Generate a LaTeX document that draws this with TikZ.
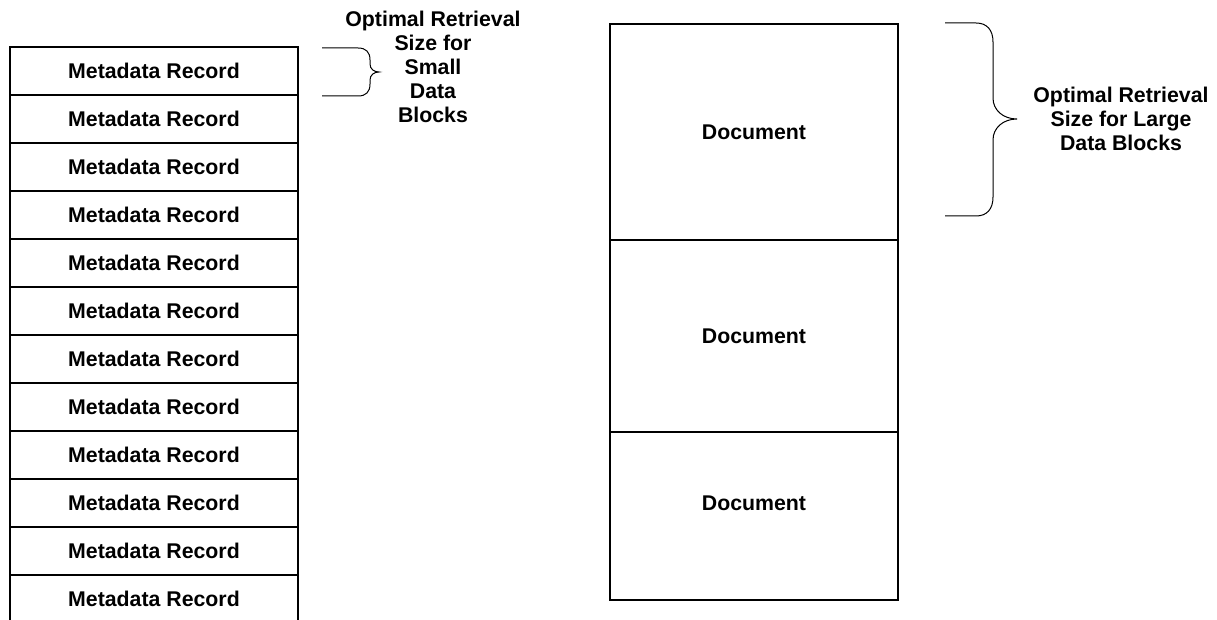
\documentclass[tikz,border=0pt]{standalone}
\usepackage{fontspec}
\setmainfont{Liberation Sans}
\usepackage{tikz}
\usetikzlibrary{positioning}

\begin{document}
\begin{tikzpicture}[x=1pt, y=-1pt,
		every node/.style={font=\fontsize{21.3}{24}\selectfont\bfseries},
		recbox/.style={draw, line width=1.3pt, outer sep=0pt, minimum width=288pt, minimum height=48pt, inner sep=0pt},%
		docbox/.style={draw, line width=1.3pt, outer sep=0pt, minimum width=288pt, inner sep=0pt},%
		brc/.style={line width=1pt},
		]
	\useasboundingbox (0,0) rectangle (1217,620);
	\node[recbox] (rec1) at (154,71) {Metadata Record};
	\foreach \i [remember=\i as \j (initially 1)] in {2,...,12}
		\node[recbox, below=0pt of rec\j] (rec\i) {Metadata Record};
	\node[docbox, minimum height=216pt] (doc1) at (754,132) {Document};
	\node[docbox, minimum height=192pt, below=0pt of doc1] (doc2) {Document};
	\node[docbox, minimum height=168pt, below=0pt of doc2] (doc3) {};
	\node (doc3txt) at ([yshift=13pt]doc3.center) {Document};
	\node[align=center] (smalltxt) at (433,67) {Optimal Retrieval\\Size for\\Small\\Data\\Blocks};
	\node[align=center] (largetxt) at (1121,119) {Optimal Retrieval\\Size for Large\\Data Blocks};
	\draw[brc] (322,48) -- (358,48) .. controls (366,48) and (370,52) .. (370,60) -- (370,64)
		.. controls (370,69) and (374,72) .. (379,72) .. controls (374,72) and (370,75) .. (370,80)
		-- (370,84) .. controls (370,92) and (366,96) .. (358,96) -- (322,96);
	\draw[brc] (945,23) -- (976,23) .. controls (987,23) and (993,30) .. (993,42) -- (993,98)
		.. controls (993,110) and (1003,119) .. (1017,119) .. controls (1003,119) and (993,128) .. (993,140)
		-- (993,197) .. controls (993,209) and (987,216) .. (976,216) -- (945,216);
\end{tikzpicture}
\end{document}
